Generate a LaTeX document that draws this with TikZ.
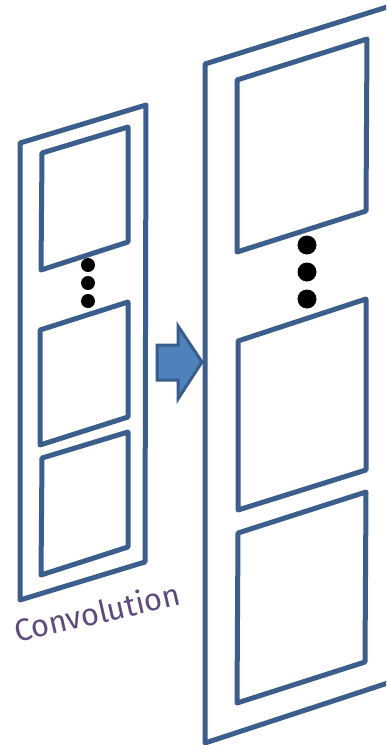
\documentclass[tikz,border=0pt]{standalone}
\usepackage{fontspec}
\setmainfont{Fira Sans}
\usepackage{tikz}
\usetikzlibrary{positioning, calc}
\definecolor{framblue}{RGB}{59,94,140}
\definecolor{arrfill}{RGB}{79,129,189}
\definecolor{arrdraw}{RGB}{56,93,138}
\definecolor{labpurple}{RGB}{94,74,126}
\tikzset{
  panel/.style={draw=framblue, line width=5pt, line join=round, fill=white},
  window/.style={draw=framblue, line width=5pt, line join=round},
  smalldot/.style={circle, fill=black, inner sep=0pt, minimum size=14pt},
  bigdot/.style={circle, fill=black, inner sep=0pt, minimum size=19pt},
  blockarrow/.style={draw=arrdraw, fill=arrfill, line width=3pt, line join=miter},
  convlabel/.style={font=\fontsize{31}{34}\selectfont, text=labpurple, rotate=13}
}

\begin{document}
\begin{tikzpicture}[x=1pt, y=-1pt]
  \useasboundingbox (0,0) rectangle (386,745);
  \clip (0,0) rectangle (386,745);

  % input feature stack
  \draw[panel] (20,143) -- (146,105) -- (145,562) -- (20,600) -- cycle;
  \draw[window] (42,153) -- (128,127) -- (128,242) -- (41,270) -- cycle;
  \draw[window] (40,330) -- (128,302) -- (128,417) -- (40,445) -- cycle;
  \draw[window] (42,458) -- (128,432) -- (128,547) -- (41,575) -- cycle;
  \foreach \y/\n in {265/1, 283/2, 301/3}
    \node[smalldot] (ldot\n) at (88,\y) {};

  % output feature stack
  \draw[panel] (205,64) -- (400,3) -- (400,679) -- (205,743) -- cycle;
  \draw[window] (237,80) -- (367,39) -- (366,211) -- (237,252) -- cycle;
  \draw[window] (238,341) -- (366,299) -- (366,470) -- (238,510) -- cycle;
  \draw[window] (238,533) -- (366,492) -- (365,662) -- (237,703) -- cycle;
  \foreach \y/\n in {245/1, 272/2, 299/3}
    \node[bigdot] (rdot\n) at (307,\y) {};

  % block arrow
  \draw[blockarrow] (157,345) -- (178,345) -- (178,326) -- (202,362)
    -- (178,399) -- (178,380) -- (157,380) -- cycle;

  \node[convlabel] (conv) at (97,612) {Convolution};
\end{tikzpicture}
\end{document}
